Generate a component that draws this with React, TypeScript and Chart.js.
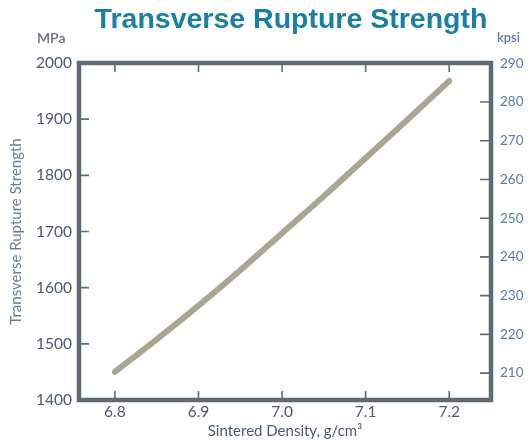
import React, { useEffect, useRef } from "react";
import { Chart, registerables } from "chart.js";

Chart.register(...registerables);

const chartTitle = "Transverse Rupture Strength";
const leftUnit = "MPa";
const rightUnit = "kpsi";
const xTitle = "Sintered Density, g/cm³";
const yTitle = "Transverse Rupture Strength";

const density = [6.8, 6.85, 6.9, 6.95, 7.0, 7.05, 7.1, 7.15, 7.2];
const strengthMPa = [1450, 1508, 1568, 1631, 1697, 1763, 1831, 1899, 1968];

const xTicks = [6.8, 6.9, 7.0, 7.1, 7.2];
const mpaTicks = [1400, 1500, 1600, 1700, 1800, 1900, 2000];
const kpsiTicks = [210, 220, 230, 240, 250, 260, 270, 280, 290];

const xMin = 6.757;
const xMax = 7.25;
const mpaMin = 1400;
const mpaMax = 2000;
const MPA_TO_KPSI = 0.145038;

const FRAME = "#5f6b74";

const framePlugin = {
  id: "framePlugin",
  afterDatasetsDraw(chart: any) {
    const { ctx, chartArea } = chart;
    const { left, right, top, bottom } = chartArea;
    const x = chart.scales.x;
    const y = chart.scales.y;
    const y2 = chart.scales.y2;
    ctx.save();
    ctx.strokeStyle = FRAME;
    ctx.lineWidth = 1.6;
    ctx.beginPath();
    x.ticks.forEach((t: any) => {
      const px = x.getPixelForValue(t.value);
      ctx.moveTo(px, top);
      ctx.lineTo(px, top + 9);
      ctx.moveTo(px, bottom);
      ctx.lineTo(px, bottom - 9);
    });
    y.ticks.forEach((t: any) => {
      const py = y.getPixelForValue(t.value);
      ctx.moveTo(left, py);
      ctx.lineTo(left + 10, py);
    });
    y2.ticks.forEach((t: any) => {
      const py = y2.getPixelForValue(t.value);
      ctx.moveTo(right, py);
      ctx.lineTo(right - 11, py);
    });
    ctx.stroke();
    ctx.lineWidth = 4.5;
    ctx.strokeStyle = FRAME;
    ctx.strokeRect(left, top, right - left, bottom - top);
    ctx.restore();
  },
  afterDraw(chart: any) {
    const { ctx } = chart;
    ctx.save();
    ctx.textBaseline = "alphabetic";
    ctx.textAlign = "center";
    ctx.fillStyle = "#1a80a2";
    ctx.font = 'bold 28.5px "Liberation Sans", Arial, sans-serif';
    ctx.fillText(chartTitle, 291, 28);
    ctx.textAlign = "left";
    ctx.fillStyle = "#66707f";
    ctx.font = '600 14px Lato, "Open Sans", sans-serif';
    ctx.fillText(leftUnit, 37, 43);
    ctx.fillStyle = "#5b7aa8";
    ctx.font = '600 13px Lato, "Open Sans", sans-serif';
    ctx.fillText(rightUnit, 497, 42);
    ctx.restore();
  },
};

export default function App() {
  const ref = useRef<HTMLCanvasElement | null>(null);
  useEffect(() => {
    if (!ref.current) return;
    const chart = new Chart(ref.current, {
      type: "line",
      data: {
        datasets: [
          {
            data: density.map((d, i) => ({ x: d, y: strengthMPa[i] })),
            borderColor: "#a9a692",
            borderWidth: 6,
            borderCapStyle: "round",
            pointRadius: 0,
            tension: 0.4,
            fill: false,
          } as any,
        ],
      },
      options: {
        animation: false,
        responsive: false,
        layout: { padding: { top: 63, left: 0, right: 0, bottom: 0 } },
        plugins: {
          legend: { display: false },
          tooltip: { enabled: false },
          title: { display: false },
        },
        scales: {
          x: {
            type: "linear",
            min: xMin,
            max: xMax,
            grid: { display: false, drawTicks: false },
            border: { display: false },
            afterBuildTicks: (s: any) => {
              s.ticks = xTicks.map((v) => ({ value: v }));
            },
            afterFit: (s: any) => {
              s.height = 44;
            },
            ticks: {
              padding: 3,
              color: "#4b5a6e",
              font: { family: 'Lato, "Open Sans", sans-serif', size: 15.5 },
              callback: (v: any) => Number(v).toFixed(1),
            },
            title: {
              display: true,
              text: xTitle,
              color: "#4b5a6e",
              font: { family: 'Lato, "Open Sans", sans-serif', size: 15 },
              padding: { top: 0, bottom: 4 },
            },
          },
          y: {
            type: "linear",
            position: "left",
            min: mpaMin,
            max: mpaMax,
            grid: { display: false, drawTicks: false },
            border: { display: false },
            afterBuildTicks: (s: any) => {
              s.ticks = mpaTicks.map((v) => ({ value: v }));
            },
            afterFit: (s: any) => {
              s.width = 79;
            },
            ticks: {
              padding: 7,
              color: "#4b5a6e",
              font: { family: 'Lato, "Open Sans", sans-serif', size: 15.5 },
              callback: (v: any) => String(v),
            },
            title: {
              display: true,
              text: yTitle,
              color: "#6d7e94",
              font: { family: 'Lato, "Open Sans", sans-serif', size: 15 },
              padding: { top: 7, bottom: 0 },
            },
          },
          y2: {
            type: "linear",
            position: "right",
            min: mpaMin * MPA_TO_KPSI,
            max: mpaMax * MPA_TO_KPSI,
            grid: { display: false, drawTicks: false },
            border: { display: false },
            afterBuildTicks: (s: any) => {
              s.ticks = kpsiTicks.map((v) => ({ value: v }));
            },
            afterFit: (s: any) => {
              s.width = 39;
            },
            ticks: {
              padding: 9,
              color: "#5b7aa8",
              font: { family: 'Lato, "Open Sans", sans-serif', size: 13.5 },
              callback: (v: any) => String(v),
            },
          },
        },
      } as any,
      plugins: [framePlugin],
    });
    return () => chart.destroy();
  }, []);
  return (
    <div style={{ position: "absolute", left: 0, top: 0, width: 530, height: 444, background: "#fff" }}>
      <canvas ref={ref} width={530} height={444} style={{ width: 530, height: 444, display: "block" }} />
    </div>
  );
}
